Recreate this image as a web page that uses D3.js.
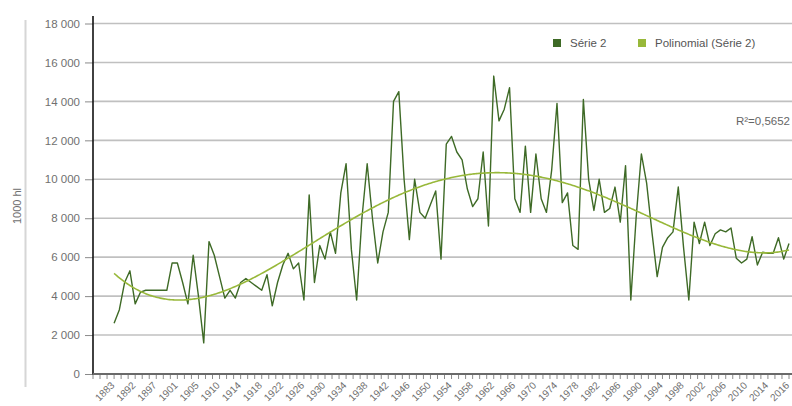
<!DOCTYPE html>
<html>
<head>
<meta charset="utf-8">
<script src="https://cdn.jsdelivr.net/npm/d3@7"></script>
<style>
  html, body { margin: 0; padding: 0; background: #fff; }
  svg { display: block; }
  text { font-family: "Liberation Sans", Arial, sans-serif; }
</style>
</head>
<body>
<svg id="chart" width="792" height="406"></svg>
<script>
// Annual volumes, in 1000 hl
const values = [
  2600, 3300, 4700, 5300, 3600, 4200, 4300, 4300, 4300, 4300,
  4300, 5700, 5700, 4700, 3600, 6100, 4000, 1600, 6800, 6100,
  5000, 3900, 4300, 3900, 4700, 4900, 4700, 4500, 4300, 5100,
  3500, 4700, 5600, 6200, 5400, 5700, 3800, 9200, 4700, 6600,
  5900, 7300, 6200, 9300, 10800, 6400, 3800, 8000, 10800, 8000,
  5700, 7300, 8300, 14000, 14500, 10000, 6900, 10000, 8300, 8000,
  8700, 9400, 5900, 11800, 12200, 11400, 11000, 9500, 8600, 9000,
  11400, 7600, 15300, 13000, 13600, 14700, 9000, 8300, 11700, 8300,
  11300, 9000, 8300, 10500, 13900, 8800, 9300, 6600, 6400, 14100,
  10000, 8400, 10000, 8300, 8500, 9600, 7800, 10700, 3800, 8000,
  11300, 9800, 7300, 5000, 6500, 7000, 7300, 9600, 6500, 3800,
  7800, 6700, 7800, 6600, 7200, 7400, 7300, 7500, 5950, 5700,
  5900, 7050, 5600, 6250, 6200, 6200, 7000, 5900, 6700
];

// Category labels, one every fourth point
const tickLabels = ["1883","1892","1897","1901","1905","1910","1914","1918","1922","1926",
  "1930","1934","1938","1942","1946","1950","1954","1958","1962","1966","1970","1974",
  "1978","1982","1986","1990","1994","1998","2002","2006","2010","2014","2016"];
const labelStep = 4;

const yTicks = [0, 2000, 4000, 6000, 8000, 10000, 12000, 14000, 16000, 18000];
const seriesNames = ["Série 2", "Polinomial (Série 2)"];
const rSquaredText = "R²=0,5652";
const polyOrder = 4;

const colors = { series: "#3e6a26", trend: "#98b83a", grid: "#c0c0c0", text: "#707070" };

const svg = d3.select("#chart");
const plot = { left: 93, right: 792, top: 23.5, bottom: 374 };

const x = d3.scaleLinear()
  .domain([-labelStep, values.length - 1])
  .range([plot.left, 789]);
const y = d3.scaleLinear()
  .domain([0, 18000])
  .range([plot.bottom, plot.top]);

// thin frame line on the far left
svg.append("line")
  .attr("x1", 25.5).attr("x2", 25.5).attr("y1", 20).attr("y2", 387)
  .attr("stroke", "#d6d6d6").attr("stroke-width", 2);

// horizontal grid
svg.append("g").selectAll("line")
  .data(yTicks.filter(d => d > 0))
  .join("line")
  .attr("x1", plot.left).attr("x2", plot.right)
  .attr("y1", d => y(d)).attr("y2", d => y(d))
  .attr("stroke", colors.grid).attr("stroke-width", 1.6);

// y axis
const yAxis = d3.axisLeft(y)
  .tickValues(yTicks)
  .tickSize(8)
  .tickPadding(5)
  .tickFormat(d => d3.format(",")(d).replace(",", " "));
const gy = svg.append("g")
  .attr("transform", `translate(${plot.left},0)`)
  .call(yAxis);
gy.select(".domain").remove();
gy.selectAll(".tick line").attr("stroke", "#8a8a8a").attr("stroke-width", 1);
gy.selectAll(".tick text")
  .attr("fill", colors.text)
  .style("font-size", "11.5px");

svg.append("line")
  .attr("x1", plot.left).attr("x2", plot.left)
  .attr("y1", 16).attr("y2", plot.bottom + 1)
  .attr("stroke", "#111").attr("stroke-width", 1.6);

// y axis title
svg.append("text")
  .attr("transform", `translate(21,206) rotate(-90)`)
  .attr("text-anchor", "middle")
  .attr("fill", colors.text)
  .style("font-size", "11px")
  .text("1000 hl");

// x axis: line, minor ticks (three per label interval) and rotated labels
const minorTicks = d3.range(-labelStep, values.length - 1 + 0.01, labelStep / 3);
svg.append("g").selectAll("line")
  .data(minorTicks)
  .join("line")
  .attr("x1", d => x(d)).attr("x2", d => x(d))
  .attr("y1", plot.bottom).attr("y2", plot.bottom + 5)
  .attr("stroke", "#8a8a8a").attr("stroke-width", 1);

svg.append("line")
  .attr("x1", plot.left).attr("x2", plot.right)
  .attr("y1", plot.bottom).attr("y2", plot.bottom)
  .attr("stroke", "#6a6a6a").attr("stroke-width", 2);

svg.append("g").selectAll("text")
  .data(tickLabels)
  .join("text")
  .attr("transform", (d, i) => `translate(${x(i * labelStep) + 1},${plot.bottom + 12}) rotate(-45)`)
  .attr("text-anchor", "end")
  .attr("fill", colors.text)
  .style("font-size", "10px")
  .text(d => d);

// least-squares polynomial trend over the point index
function polyFit(vals, order) {
  const n = vals.length, c = (n - 1) / 2;
  const ts = vals.map((_, i) => (i - c) / c);
  const m = order + 1;
  const A = Array.from({ length: m }, () => new Array(m + 1).fill(0));
  ts.forEach((t, k) => {
    for (let r = 0; r < m; r++) {
      for (let s = 0; s < m; s++) A[r][s] += Math.pow(t, r + s);
      A[r][m] += Math.pow(t, r) * vals[k];
    }
  });
  for (let col = 0; col < m; col++) {
    let piv = col;
    for (let r = col + 1; r < m; r++) if (Math.abs(A[r][col]) > Math.abs(A[piv][col])) piv = r;
    [A[col], A[piv]] = [A[piv], A[col]];
    for (let r = 0; r < m; r++) {
      if (r === col) continue;
      const f = A[r][col] / A[col][col];
      for (let s = col; s <= m; s++) A[r][s] -= f * A[col][s];
    }
  }
  const coef = A.map((row, r) => row[m] / row[r]);
  return i => {
    const t = (i - c) / c;
    return coef.reduce((acc, a, p) => acc + a * Math.pow(t, p), 0);
  };
}
const trend = polyFit(values, polyOrder);

const line = d3.line().x(d => x(d[0])).y(d => y(d[1]));

// data series
svg.append("path")
  .datum(values.map((v, i) => [i, v]))
  .attr("d", line)
  .attr("fill", "none")
  .attr("stroke", colors.series)
  .attr("stroke-width", 1.4)
  .attr("stroke-linejoin", "round");

// trend line
const trendPts = d3.range(0, values.length - 1 + 0.001, 0.25).map(i => [i, trend(i)]);
svg.append("path")
  .datum(trendPts)
  .attr("d", line)
  .attr("fill", "none")
  .attr("stroke", colors.trend)
  .attr("stroke-width", 1.6);

// legend
const legend = svg.append("g");
const legendItems = [
  { name: seriesNames[0], color: colors.series, x: 553 },
  { name: seriesNames[1], color: colors.trend, x: 638 }
];
legendItems.forEach(it => {
  legend.append("rect")
    .attr("x", it.x).attr("y", 39).attr("width", 8).attr("height", 8)
    .attr("fill", it.color);
  legend.append("text")
    .attr("x", it.x + 17).attr("y", 47)
    .attr("fill", "#555")
    .style("font-size", "11.5px")
    .text(it.name);
});

// goodness of fit
svg.append("text")
  .attr("x", 790).attr("y", 125)
  .attr("text-anchor", "end")
  .attr("fill", "#666")
  .style("font-size", "11.5px")
  .text(rSquaredText);
</script>
</body>
</html>
